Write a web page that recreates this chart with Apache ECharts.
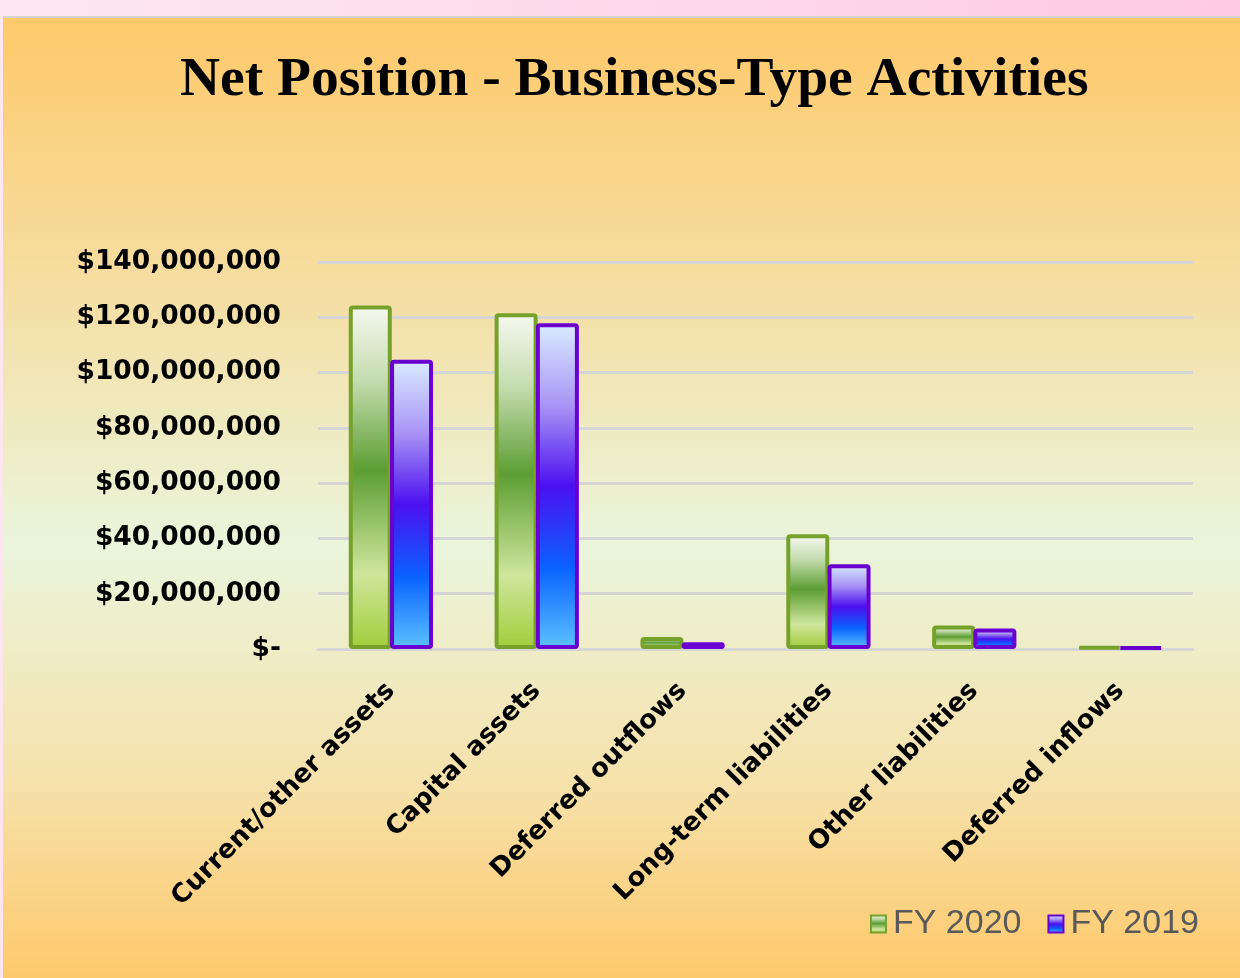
<!DOCTYPE html>
<html>
<head>
<meta charset="utf-8">
<script src="https://cdn.jsdelivr.net/npm/echarts@6/dist/echarts.min.js"></script>
<style>
  html, body { margin: 0; padding: 0; }
  body {
    width: 1240px; height: 978px; overflow: hidden; position: relative;
    background: linear-gradient(100deg, #fde8f1 0%, #ffc6e2 100%);
  }
  #chart {
    position: absolute; left: 3px; top: 16px; width: 1237px; height: 962px;
    border-top: 2px solid #d8d4d4; box-sizing: border-box;
  }
</style>
</head>
<body>
<div id="chart"></div>
<script>
// Data
const categories = ['Current/other assets', 'Capital assets', 'Deferred outflows',
    'Long-term liabilities', 'Other liabilities', 'Deferred inflows'];
const fy2020 = [124300000, 121500000, 4300000, 41500000, 8500000, 900000];
const fy2019 = [104600000, 117800000, 2400000, 30700000, 7400000, 800000];
const seriesNames = ['FY 2020', 'FY 2019'];

const greenFill = new echarts.graphic.LinearGradient(0, 0, 0, 1, [
    {offset: 0, color: '#f7f9f2'},
    {offset: 0.22, color: '#c4dcae'},
    {offset: 0.48, color: '#5c9e33'},
    {offset: 0.78, color: '#cfe69d'},
    {offset: 1, color: '#a2cd3a'}
]);
const purpleFill = new echarts.graphic.LinearGradient(0, 0, 0, 1, [
    {offset: 0, color: '#d9ecff'},
    {offset: 0.25, color: '#a995f5'},
    {offset: 0.5, color: '#4b10f0'},
    {offset: 0.75, color: '#0a62ff'},
    {offset: 1, color: '#5cc2ff'}
]);

const chart = echarts.init(document.getElementById('chart'));
chart.setOption({
    backgroundColor: new echarts.graphic.LinearGradient(0, 0, 0, 1, [
        {offset: 0, color: '#fec96a'},
        {offset: 0.28, color: '#f5dea2'},
        {offset: 0.55, color: '#eaf5dc'},
        {offset: 0.8, color: '#f6e1aa'},
        {offset: 1, color: '#fec96b'}
    ]),
    title: {
        text: 'Net Position - Business-Type Activities',
        left: 172,
        top: 30,
        textStyle: {
            fontFamily: 'Liberation Serif',
            fontSize: 55.5,
            fontWeight: 'bold',
            color: '#000'
        }
    },
    legend: {
        data: seriesNames,
        right: 36,
        top: 884,
        icon: 'rect',
        itemWidth: 15,
        itemHeight: 17,
        itemGap: 26,
        textStyle: {
            fontFamily: 'Liberation Sans',
            fontSize: 34,
            color: '#595959',
            padding: [0, 0, 0, 2]
        }
    },
    grid: {
        left: 315,
        right: 47,
        top: 244,
        bottom: 329
    },
    xAxis: {
        type: 'category',
        data: categories,
        axisLine: {lineStyle: {color: '#d6d6d6', width: 3}},
        axisTick: {show: false},
        axisLabel: {
            interval: 0,
            rotate: 45,
            margin: 38,
            fontFamily: 'DejaVu Sans',
            fontWeight: 'bold',
            fontSize: 26,
            color: '#000'
        }
    },
    yAxis: {
        type: 'value',
        min: 0,
        max: 140000000,
        interval: 20000000,
        axisLine: {show: false},
        axisTick: {show: false},
        splitLine: {lineStyle: {color: '#d6d6d6', width: 3}},
        axisLabel: {
            margin: 37,
            fontFamily: 'DejaVu Sans',
            fontWeight: 'bold',
            fontSize: 26.5,
            color: '#000',
            formatter: v => v === 0 ? '$-' : '$' + v.toLocaleString('en-US')
        }
    },
    series: [
        {
            name: seriesNames[0],
            type: 'bar',
            data: fy2020,
            barWidth: 43,
            barGap: '-4%',
            itemStyle: {
                color: greenFill,
                borderColor: '#76a12a',
                borderWidth: 4,
                borderRadius: 2
            }
        },
        {
            name: seriesNames[1],
            type: 'bar',
            data: fy2019,
            barWidth: 43,
            itemStyle: {
                color: purpleFill,
                borderColor: '#6a00d0',
                borderWidth: 4,
                borderRadius: 2
            }
        }
    ]
});
</script>
</body>
</html>
